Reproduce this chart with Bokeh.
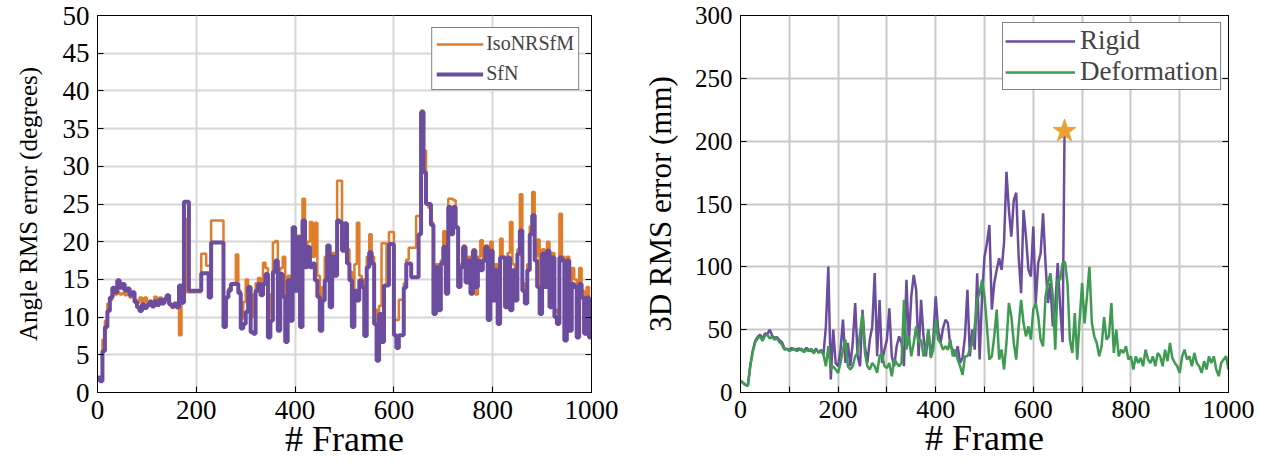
from bokeh.plotting import figure
from bokeh.layouts import row
from bokeh.models import (Range1d, FixedTicker, LinearAxis, CustomJSTickFormatter,
                          Legend, LegendItem)
from bokeh.embed import file_html
from bokeh.resources import INLINE

# ---------------- data ----------------
# Left panel: angle RMS error (degrees), sampled every 5 frames
angle_frames = list(range(0, 1001, 5))
sfn_angle = [
    2.0, 1.5, 5.5, 8.7, 10.8, 12.6, 13.9, 13.3, 14.9, 13.9,
    14.4, 13.5, 13.8, 12.9, 13.3, 12.0, 11.3, 10.8, 11.7, 11.2,
    11.6, 12.0, 11.4, 12.1, 11.6, 12.3, 11.8, 12.4, 12.9, 11.7,
    11.4, 11.8, 11.3, 14.2, 11.9, 25.3, 25.3, 13.5, 13.5, 13.5,
    13.5, 13.5, 15.8, 15.8, 15.8, 12.6, 19.9, 19.9, 19.9, 19.9,
    19.9, 8.7, 12.6, 13.5, 14.4, 14.4, 14.4, 13.2, 8.5, 9.1,
    10.7, 14.0, 8.0, 7.8, 13.5, 14.4, 12.9, 14.4, 15.7, 7.3,
    9.5, 16.0, 17.5, 8.2, 15.7, 12.7, 6.7, 14.9, 9.5, 21.9,
    13.5, 20.6, 8.7, 22.8, 16.6, 19.3, 16.6, 17.1, 14.9, 12.7,
    8.2, 12.2, 14.9, 19.5, 11.3, 18.0, 15.5, 22.8, 22.6, 18.8,
    22.4, 17.1, 14.9, 8.7, 13.5, 12.2, 14.9, 14.0, 7.5, 16.6,
    18.6, 17.1, 9.1, 4.2, 10.4, 6.7, 14.2, 14.2, 19.7, 19.7,
    7.6, 5.9, 7.6, 7.6, 13.9, 17.1, 17.1, 15.3, 15.3, 15.3,
    21.0, 37.2, 29.2, 25.0, 25.0, 22.2, 10.4, 16.6, 10.9, 17.1,
    19.3, 13.1, 24.6, 21.0, 24.6, 21.9, 14.0, 16.6, 19.3, 14.6,
    17.5, 13.1, 18.8, 14.0, 17.5, 16.2, 17.5, 19.3, 9.6, 18.8,
    12.2, 16.2, 9.1, 17.9, 17.9, 11.3, 17.9, 10.9, 16.2, 12.2,
    18.4, 21.5, 13.5, 11.8, 16.2, 21.0, 23.5, 17.5, 14.0, 10.4,
    18.4, 14.0, 18.8, 11.3, 17.9, 10.0, 9.1, 17.9, 17.5, 6.9,
    17.5, 8.2, 14.4, 14.0, 7.3, 14.4, 12.6, 7.8, 12.6, 7.3,
    10.0,
]
iso_angle = [
    1.8, 2.0, 7.0, 9.5, 11.8, 12.3, 12.9, 13.0, 13.3, 13.0,
    13.2, 12.9, 13.1, 12.6, 12.8, 12.3, 11.9, 12.6, 12.0, 12.6,
    11.9, 12.2, 11.8, 12.7, 12.2, 12.6, 11.9, 12.3, 12.0, 11.6,
    11.2, 11.6, 11.2, 7.6, 12.0, 23.0, 13.3, 13.3, 13.3, 13.3,
    13.3, 13.3, 18.4, 18.4, 16.8, 16.8, 22.8, 22.8, 22.8, 22.8,
    22.8, 9.8, 12.6, 13.8, 14.4, 14.4, 18.3, 13.5, 9.8, 12.0,
    15.0, 12.5, 10.0, 13.0, 14.5, 15.2, 14.0, 17.2, 16.5, 10.0,
    13.0, 19.9, 20.1, 12.0, 16.5, 18.0, 9.5, 15.5, 12.0, 21.0,
    17.0, 20.8, 13.0, 25.7, 18.0, 20.0, 22.6, 18.0, 22.5, 15.5,
    11.0, 14.0, 18.0, 19.5, 13.5, 18.5, 16.5, 28.1, 28.1, 22.4,
    22.5, 19.0, 16.0, 12.0, 17.0, 22.5, 15.5, 15.0, 10.0, 18.0,
    21.0, 18.0, 11.0, 7.0, 11.5, 19.8, 19.8, 14.5, 21.3, 21.3,
    9.6, 9.6, 12.3, 12.3, 14.5, 17.6, 19.2, 19.2, 19.2, 23.4,
    23.4, 37.4, 32.1, 25.0, 24.5, 22.5, 11.0, 17.0, 12.0, 17.5,
    21.4, 14.0, 25.7, 25.7, 25.5, 22.0, 15.0, 17.0, 19.5, 15.0,
    18.0, 14.0, 19.0, 13.0, 18.0, 20.2, 17.5, 19.5, 10.5, 20.0,
    13.0, 17.0, 10.0, 20.4, 18.0, 12.0, 18.5, 22.6, 17.0, 13.0,
    19.0, 26.3, 14.5, 12.5, 17.0, 22.0, 26.6, 18.0, 20.3, 11.0,
    19.0, 15.0, 20.0, 12.0, 18.5, 11.0, 10.5, 23.7, 18.0, 8.5,
    18.0, 9.5, 16.5, 15.0, 11.0, 16.5, 13.5, 9.0, 14.0, 8.0,
    10.5,
]

# Right panel: 3D RMS error (mm)
deform_frames = list(range(0, 1001, 5))
deformation_rms = [
    9.0, 8.0, 6.3, 5.0, 20.9, 32.0, 40.0, 43.0, 44.7, 41.0,
    45.0, 46.0, 43.0, 44.0, 42.0, 43.0, 40.0, 38.0, 34.0, 35.0,
    33.0, 34.0, 35.0, 33.0, 34.0, 35.0, 32.0, 34.0, 33.0, 35.0,
    31.0, 34.0, 32.0, 33.0, 30.0, 20.9, 36.8, 18.3, 20.9, 18.3,
    15.6, 23.5, 34.1, 42.1, 20.9, 18.3, 20.9, 28.8, 31.5, 47.4,
    63.2, 31.5, 20.9, 18.3, 23.5, 20.9, 15.6, 28.8, 31.5, 20.9,
    19.6, 23.5, 12.9, 26.2, 23.5, 20.9, 23.5, 73.8, 34.1, 44.7,
    28.8, 39.4, 52.6, 39.4, 42.1, 28.8, 34.1, 50.0, 27.5, 34.1,
    57.9, 42.1, 39.4, 34.1, 36.8, 34.1, 42.1, 28.8, 34.1, 26.2,
    21.0, 13.9, 28.8, 28.8, 34.1, 39.4, 52.6, 73.8, 79.0, 89.7,
    76.5, 52.6, 26.2, 28.8, 44.7, 66.0, 26.2, 34.1, 18.3, 39.4,
    71.2, 60.5, 39.4, 26.2, 52.6, 73.8, 55.3, 44.7, 52.6, 42.1,
    66.0, 71.2, 60.5, 42.1, 36.8, 76.5, 87.0, 94.9, 76.5, 34.1,
    89.7, 89.7, 103.0, 104.0, 87.0, 42.0, 31.5, 63.2, 26.2, 58.0,
    87.0, 55.0, 76.5, 100.0, 55.3, 44.7, 39.4, 28.8, 36.8, 60.0,
    42.0, 45.0, 71.2, 31.5, 50.0, 28.8, 34.1, 31.5, 36.8, 26.2,
    28.8, 18.3, 28.8, 23.5, 27.5, 20.9, 34.1, 26.2, 23.5, 28.8,
    20.9, 31.5, 28.8, 20.9, 34.1, 24.9, 39.4, 27.5, 23.5, 20.9,
    15.6, 28.8, 34.1, 26.2, 28.8, 20.9, 31.5, 23.5, 20.9, 15.6,
    24.9, 18.3, 28.8, 23.5, 28.8, 18.3, 13.0, 23.5, 26.2, 28.8,
    18.3,
]
rigid_frames = list(range(0, 661, 5)) + [664]
rigid_rms = [
    9.5, 7.5, 6.0, 5.5, 21.5, 33.0, 41.0, 44.0, 46.0, 43.0,
    47.0, 46.5, 50.0, 45.0, 43.5, 44.0, 41.5, 40.0, 35.0, 34.5,
    34.0, 35.5, 34.0, 34.5, 35.0, 33.5, 33.0, 35.5, 34.0, 33.0,
    32.5, 35.0, 31.5, 34.0, 30.2, 52.6, 100.3, 10.3, 50.0, 23.5,
    20.9, 34.1, 58.0, 23.5, 39.4, 20.9, 39.4, 71.2, 28.8, 20.9,
    65.8, 36.8, 23.5, 42.1, 52.6, 95.0, 28.8, 73.6, 23.5, 34.1,
    42.1, 67.0, 28.8, 20.9, 36.8, 44.7, 39.4, 21.0, 89.7, 39.4,
    76.5, 93.6, 81.7, 28.8, 73.8, 44.7, 28.8, 50.0, 28.8, 42.1,
    76.5, 50.0, 39.4, 51.3, 57.9, 55.3, 36.8, 34.1, 28.8, 36.8,
    23.5, 27.5, 44.7, 81.7, 28.8, 50.0, 34.1, 94.9, 26.2, 76.5,
    108.0, 118.8, 133.3, 66.0, 87.0, 97.6, 106.9, 97.6, 118.8, 175.6,
    145.2, 124.0, 153.0, 159.0, 108.0, 79.0, 145.2, 124.0, 97.6, 92.3,
    132.0, 71.2, 103.0, 110.8, 142.6, 103.0, 71.2, 87.0, 52.6, 68.6,
    103.0, 68.6, 40.0,
    207.0,
]
star_frame = [664]
star_value = [208]

x_ticks_left = [0, 200, 400, 600, 800, 1000]
y_ticks_left = [0, 5, 10, 15, 20, 25, 30, 35, 40, 45, 50]
x_ticks_right = [0, 100, 200, 300, 400, 500, 600, 700, 800, 900, 1000]
x_labels_right = {100: "", 300: "", 500: "", 700: "", 900: ""}
y_ticks_right = [0, 50, 100, 150, 200, 250, 300]

FONT = "Liberation Serif"
ORANGE = "#E07D2B"
PURPLE = "#6B4C9E"
GREEN = "#3F9A52"
STAR = "#EBA032"


def style_axes(axes, size):
    axes.major_tick_in = 6
    axes.major_tick_out = 0
    axes.minor_tick_in = 0
    axes.minor_tick_out = 0
    axes.axis_line_color = "black"
    axes.major_tick_line_color = "black"
    axes.major_label_text_font = FONT
    axes.major_label_text_font_size = size
    axes.major_label_text_color = "black"
    axes.axis_label_text_font = FONT
    axes.axis_label_text_font_style = "normal"
    axes.axis_label_text_color = "black"


def add_right_ticks(p, ticks):
    ax = LinearAxis(ticker=FixedTicker(ticks=ticks),
                    formatter=CustomJSTickFormatter(code="return ''"))
    ax.major_tick_in = 6
    ax.major_tick_out = 0
    ax.minor_tick_in = 0
    ax.minor_tick_out = 0
    ax.major_label_standoff = 0
    ax.axis_line_color = "black"
    ax.major_tick_line_color = "black"
    p.add_layout(ax, "right")


# ---------------- left panel ----------------
p1 = figure(width=639, height=469, output_backend="svg", toolbar_location=None,
            title=None, x_range=Range1d(0, 1000), y_range=Range1d(0, 50),
            min_border_left=97, min_border_right=48, min_border_top=15,
            min_border_bottom=77)
p1.outline_line_color = "black"
p1.xaxis.ticker = FixedTicker(ticks=x_ticks_left)
p1.yaxis.ticker = FixedTicker(ticks=y_ticks_left)
p1.xgrid.ticker = FixedTicker(ticks=x_ticks_left)
p1.ygrid.ticker = FixedTicker(ticks=y_ticks_left)
for g in (p1.xgrid, p1.ygrid):
    g.grid_line_color = "#d6d6d6"
    g.grid_line_width = 2
style_axes(p1.xaxis, "27px")
style_axes(p1.yaxis, "27px")
p1.xaxis.axis_label = "# Frame"
p1.xaxis.axis_label_text_font_size = "36px"
p1.xaxis.major_label_standoff = 8
p1.xaxis.axis_label_standoff = -3
p1.yaxis.axis_label = "Angle RMS error (degrees)"
p1.yaxis.axis_label_text_font_size = "25px"
p1.yaxis.major_label_standoff = 8
p1.yaxis.axis_label_standoff = 18
add_right_ticks(p1, y_ticks_left)

r_iso = p1.step(angle_frames, iso_angle, mode="after", line_color=ORANGE,
                line_width=2.5)
r_sfn = p1.step(angle_frames, sfn_angle, mode="after", line_color=PURPLE,
                line_width=4)
leg1 = Legend(items=[LegendItem(label="IsoNRSfM", renderers=[r_iso]),
                     LegendItem(label="SfN", renderers=[r_sfn])],
              location="top_right", margin=12, padding=4, spacing=7,
              glyph_width=47, glyph_height=22, label_height=22,
              label_standoff=3, label_text_font=FONT,
              label_text_font_size="20px", border_line_color="black",
              border_line_width=1, background_fill_alpha=1.0)
p1.add_layout(leg1)

# ---------------- right panel ----------------
p2 = figure(width=639, height=469, output_backend="svg", toolbar_location=None,
            title=None, x_range=Range1d(0, 1000), y_range=Range1d(0, 300),
            min_border_left=92, min_border_right=50, min_border_top=15,
            min_border_bottom=77)
p2.outline_line_color = "black"
p2.xaxis.ticker = FixedTicker(ticks=x_ticks_right)
p2.xaxis.major_label_overrides = x_labels_right
p2.yaxis.ticker = FixedTicker(ticks=y_ticks_right)
p2.xgrid.ticker = FixedTicker(ticks=x_ticks_right)
p2.ygrid.ticker = FixedTicker(ticks=y_ticks_right)
for g in (p2.xgrid, p2.ygrid):
    g.grid_line_color = "#c8c8c8"
    g.grid_line_width = 2
style_axes(p2.xaxis, "26px")
style_axes(p2.yaxis, "25px")
p2.xaxis.axis_label = "# Frame"
p2.xaxis.axis_label_text_font_size = "36px"
p2.xaxis.major_label_standoff = 8
p2.xaxis.axis_label_standoff = -3
p2.yaxis.axis_label = "3D RMS error (mm)"
p2.yaxis.axis_label_text_font_size = "31px"
p2.yaxis.major_label_standoff = 8
p2.yaxis.axis_label_standoff = 14
add_right_ticks(p2, y_ticks_right)

r_rigid = p2.line(rigid_frames, rigid_rms, line_color=PURPLE, line_width=2.5)
r_def = p2.line(deform_frames, deformation_rms, line_color=GREEN, line_width=2.5)
p2.scatter(star_frame, star_value, marker="star", size=24, fill_color=STAR,
           line_color=STAR)
leg2 = Legend(items=[LegendItem(label="Rigid", renderers=[r_rigid]),
                     LegendItem(label="Deformation", renderers=[r_def])],
              location="top_right", margin=7, padding=2, spacing=-4,
              glyph_width=70, glyph_height=24, label_height=24,
              label_standoff=5, label_text_font=FONT,
              label_text_font_size="27px", border_line_color="black",
              border_line_width=1, background_fill_alpha=1.0)
p2.add_layout(leg2)

layout = row(p1, p2)
open("out.html", "w").write(file_html(layout, INLINE))
